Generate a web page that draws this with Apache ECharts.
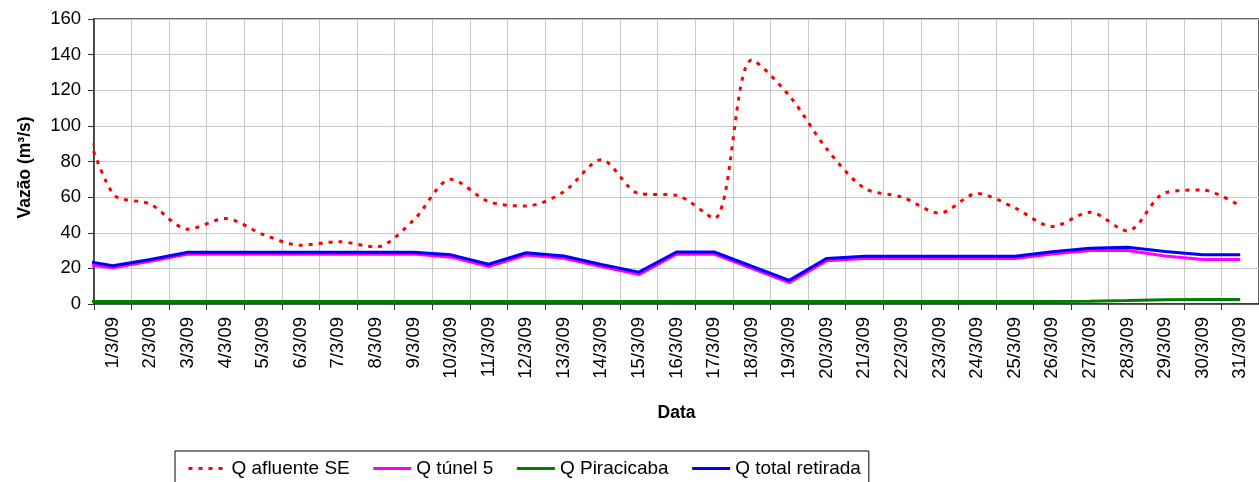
<!DOCTYPE html>
<html>
<head>
<meta charset="utf-8">
<script src="https://cdn.jsdelivr.net/npm/echarts@6/dist/echarts.min.js"></script>
<style>
  html, body { margin: 0; padding: 0; background: #fff; }
  #chart { width: 1259px; height: 482px; }
</style>
</head>
<body>
<div id="chart"></div>
<script>
// datas (1/3 a 31/3/09)
const dias = ['1/3/09', '2/3/09', '3/3/09', '4/3/09', '5/3/09', '6/3/09', '7/3/09', '8/3/09',
  '9/3/09', '10/3/09', '11/3/09', '12/3/09', '13/3/09', '14/3/09', '15/3/09', '16/3/09',
  '17/3/09', '18/3/09', '19/3/09', '20/3/09', '21/3/09', '22/3/09', '23/3/09', '24/3/09',
  '25/3/09', '26/3/09', '27/3/09', '28/3/09', '29/3/09', '30/3/09', '31/3/09'];

// o primeiro valor de cada serie e o dia anterior (28/2), so aparece cortado na borda
const qAfluente = [118, 62, 56, 42, 48, 39, 33, 35, 32, 47, 70, 57.5, 55, 63, 81, 62, 61, 48,
  137, 117, 87, 65, 60, 51, 62, 54, 43.5, 51.5, 41, 62.5, 64, 55];
const qTunel = [23, 20.3, 24, 28, 28, 28, 28, 28, 28, 28, 26.3, 21, 27.5, 25.7, 21, 16.5, 28, 28,
  20, 12, 24.3, 25.5, 25.5, 25.5, 25.5, 25.5, 28, 30, 30, 27, 25, 25];
const qPiracicaba = [1.4, 1.4, 1.4, 1.4, 1.4, 1.4, 1.4, 1.4, 1.4, 1.4, 1.4, 1.4, 1.4, 1.4, 1.4, 1.4,
  1.4, 1.4, 1.4, 1.4, 1.4, 1.4, 1.4, 1.4, 1.4, 1.4, 1.4, 1.5, 1.9, 2.4, 2.5, 2.5];
const qTotal = [25, 21.5, 25, 29, 29, 29, 29, 29, 29, 29, 27.6, 22.3, 28.8, 26.9, 22.2, 17.9, 29.2,
  29.2, 21.2, 13.3, 25.6, 26.8, 26.8, 26.8, 26.8, 26.8, 29.3, 31.3, 31.9, 29.5, 27.6, 27.6];

const yTicks = [0, 20, 40, 60, 80, 100, 120, 140, 160];

// posicao: indice -1 = 28/2, 0 = 1/3 ...
const pares = (arr) => arr.map((v, i) => [i - 1, v]);

const fonte = "'Liberation Sans', Arial, sans-serif";
let myecharts = echarts.init(document.getElementById('chart'));
myecharts.setOption({
  animation: false,
  textStyle: { fontFamily: fonte, color: '#000' },
  grid: {
    left: 94,
    top: 19,
    right: -8, // a area do grafico continua alem da borda da imagem
    bottom: 178,
    show: true,
    borderColor: '#333',
    borderWidth: 1.5,
  },
  legend: {
    left: 175,
    top: 451,
    orient: 'horizontal',
    padding: [8, 8, 8, 12],
    borderColor: '#000',
    borderWidth: 1,
    itemWidth: 38,
    itemHeight: 12,
    itemGap: 22,
    itemStyle: { opacity: 0 }, // so a linha, sem o simbolo
    lineStyle: { width: 3 },
    textStyle: { fontSize: 19, color: '#000', fontFamily: fonte },
    data: ['Q afluente SE', 'Q túnel 5', 'Q Piracicaba', 'Q total retirada'],
  },
  xAxis: [
    {
      type: 'category',
      data: dias,
      boundaryGap: true,
      name: 'Data',
      nameLocation: 'middle',
      nameGap: 100,
      nameTextStyle: { fontSize: 17.5, fontWeight: 'bold', color: '#000' },
      axisLine: { lineStyle: { color: '#333', width: 1.5 } },
      axisTick: { show: true, length: 6, lineStyle: { color: '#333' } },
      axisLabel: { interval: 0, rotate: 90, margin: 13, fontSize: 18.5, color: '#000' },
      splitLine: { show: true, interval: 0, lineStyle: { color: '#c8c8c8', width: 1 } },
    },
    {
      // eixo auxiliar so para posicionar as linhas
      type: 'value',
      min: -0.5,
      max: 30.5,
      show: false,
    },
  ],
  yAxis: {
    type: 'value',
    min: yTicks[0],
    max: yTicks[yTicks.length - 1],
    interval: 20,
    name: 'Vazão (m³/s)',
    nameLocation: 'middle',
    nameGap: 60,
    nameTextStyle: { fontSize: 17.5, fontWeight: 'bold', color: '#000', padding: [0, 12, 0, 0] },
    axisLine: { show: true, onZero: false, lineStyle: { color: '#333', width: 1.5 } },
    axisTick: { show: true, length: 6, lineStyle: { color: '#333' } },
    axisLabel: { margin: 13, fontSize: 18.5, color: '#000' },
    splitLine: { lineStyle: { color: '#c8c8c8', width: 1 } },
  },
  series: [
    {
      name: 'Q afluente SE',
      type: 'line',
      xAxisIndex: 1,
      data: pares(qAfluente),
      symbol: 'none',
      smooth: 0.3,
      lineStyle: { color: '#ff0000', width: 3, type: [4, 6], cap: 'butt' },
      itemStyle: { color: '#ff0000' },
    },
    {
      name: 'Q túnel 5',
      type: 'line',
      xAxisIndex: 1,
      data: pares(qTunel),
      symbol: 'none',
      lineStyle: { color: '#ff00ff', width: 3 },
      itemStyle: { color: '#ff00ff' },
    },
    {
      name: 'Q Piracicaba',
      type: 'line',
      xAxisIndex: 1,
      data: pares(qPiracicaba),
      symbol: 'none',
      lineStyle: { color: '#008000', width: 3 },
      itemStyle: { color: '#008000' },
    },
    {
      name: 'Q total retirada',
      type: 'line',
      xAxisIndex: 1,
      data: pares(qTotal),
      symbol: 'none',
      lineStyle: { color: '#0000ff', width: 3 },
      itemStyle: { color: '#0000ff' },
    },
  ],
});
</script>
</body>
</html>
